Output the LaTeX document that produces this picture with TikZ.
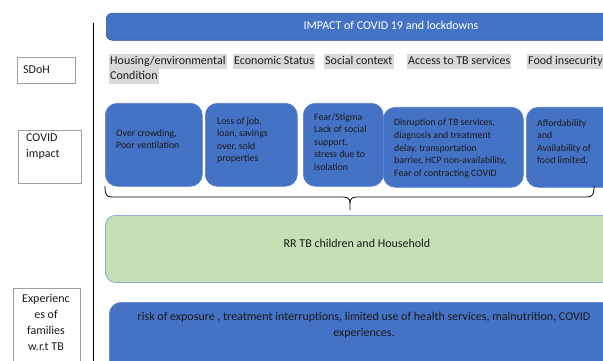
\documentclass[tikz,border=0pt]{standalone}
\usepackage{fontspec}
\setmainfont{Carlito}
\definecolor{boxblue}{HTML}{4472C4}
\definecolor{blueedge}{HTML}{5B80C8}
\definecolor{darkedge}{HTML}{2F528F}
\definecolor{lgreen}{HTML}{C5E0B4}
\definecolor{greenedge}{HTML}{8EA9DB}
\definecolor{hlgray}{HTML}{D9D9D9}
\definecolor{txt}{HTML}{1A1A1A}
\tikzset{
  bluebox/.style={draw=blueedge, fill=boxblue, rounded corners=12pt, line width=0.6pt, anchor=north west, inner sep=0pt},
  boxtxt/.style={anchor=north west, inner sep=0pt, align=left, font=\fontsize{9.8}{12.6}\selectfont, text=txt},
  hl/.style={fill=hlgray, inner sep=1pt, text height=9.5pt, text depth=3pt, anchor=base west, font=\fontsize{12}{14}\selectfont, text=txt},
  sidebox/.style={draw=gray!75, line width=0.6pt, fill=white, anchor=north west, inner sep=0pt},
  sidetxt/.style={inner sep=0pt, font=\fontsize{12}{16}\selectfont, text=txt},
}
\begin{document}
\begin{tikzpicture}[x=1pt,y=-1pt]
\useasboundingbox (0,0) rectangle (603,361);
\clip (0,0) rectangle (603,361);
% vertical separator
\coordinate (vtop) at (93,23);
\coordinate (vbot) at (93,361);
\draw[line width=0.9pt] (vtop) -- (vbot);
% side boxes
\node[sidebox, minimum width=58pt, minimum height=26pt] (sdoh) at (17,57) {};
\node[sidetxt, anchor=base west] (sdohT) at (23,74) {SDoH};
\node[sidebox, minimum width=63pt, minimum height=53pt] (cov) at (18,130) {};
\node[sidetxt, anchor=north west, align=left] (covT) at (26,134) {COVID\\impact};
\node[sidebox, minimum width=67pt, minimum height=90pt] (exp) at (13,288) {};
\node[sidetxt, anchor=north, align=center] (expT) at (46,294) {Experienc\\es of\\families\\w.r.t TB};
% title bar
\node[draw=darkedge, fill=boxblue, rounded corners=6pt, line width=0.6pt, anchor=north west, inner sep=0pt, minimum width=600pt, minimum height=27pt] (title) at (106,13) {};
\node[inner sep=0pt, text=white, font=\fontsize{12}{14}\selectfont, anchor=base] (titleT) at (391,30) {IMPACT of COVID 19 and lockdowns};
% SDoH labels
\node[hl] (h1) at (109,65) {Housing/environmental};
\node[hl] (h1b) at (109,80) {Condition};
\node[hl] (h2) at (233,65) {Economic Status};
\node[hl] (h3) at (324,65) {Social context};
\node[hl] (h4) at (407,65) {Access to TB services};
\node[hl] (h5) at (527,65) {Food insecurity};
% impact boxes
\node[bluebox, minimum width=97pt, minimum height=83pt] (b1) at (105,103) {};
\node[bluebox, minimum width=92pt, minimum height=83pt] (b2) at (205,103) {};
\node[bluebox, minimum width=80pt, minimum height=83pt] (b3) at (303,103) {};
\node[bluebox, minimum width=140pt, minimum height=80pt] (b4) at (383,107) {};
\node[bluebox, minimum width=120pt, minimum height=80pt] (b5) at (526,107) {};
\node[boxtxt] (t1) at (116,129) {Over crowding,\\Poor ventilation};
\node[boxtxt] (t2) at (217,117) {Loss of job,\\loan, savings\\over, sold\\properties};
\node[boxtxt] (t3) at (314,113) {Fear/Stigma\\Lack of social\\support,\\stress due to\\isolation};
\node[boxtxt] (t4) at (394,119) {Disruption of TB services,\\diagnosis and treatment\\delay, transportation\\barrier, HCP non-availability,\\Fear of contracting COVID};
\node[boxtxt] (t5) at (537,119) {Affordability\\and\\Availability of\\food limited,};
% brace
\coordinate (bl) at (105,186);
\coordinate (br) at (594,186);
\coordinate (bm) at (350,203);
\coordinate (btip) at (350,210);
\draw[line width=0.8pt, line join=round] (bl) .. controls (105,194) and (106,197) .. (112,197) -- (343,197) .. controls (348,197) and (350,199) .. (bm) -- (btip);
\draw[line width=0.8pt, line join=round] (br) .. controls (594,194) and (593,197) .. (587,197) -- (357,197) .. controls (352,197) and (350,199) .. (bm);
% green box
\node[draw=greenedge, fill=lgreen, rounded corners=10pt, line width=0.8pt, anchor=north west, inner sep=0pt, minimum width=600pt, minimum height=67pt] (rr) at (105,215) {};
\node[inner sep=0pt, font=\fontsize{12}{14}\selectfont, text=txt, anchor=base] (rrT) at (357,247) {RR TB children and Household};
% bottom box
\node[draw=blueedge, fill=boxblue, rounded corners=12pt, line width=0.6pt, anchor=north west, inner sep=0pt, minimum width=600pt, minimum height=100pt] (risk) at (109,302) {};
\node[inner sep=0pt, font=\fontsize{12}{16}\selectfont, text=txt, anchor=north, align=center] (riskT) at (364,312) {risk of exposure , treatment interruptions, limited use of health services, malnutrition, COVID\\experiences.};
\end{tikzpicture}
\end{document}
